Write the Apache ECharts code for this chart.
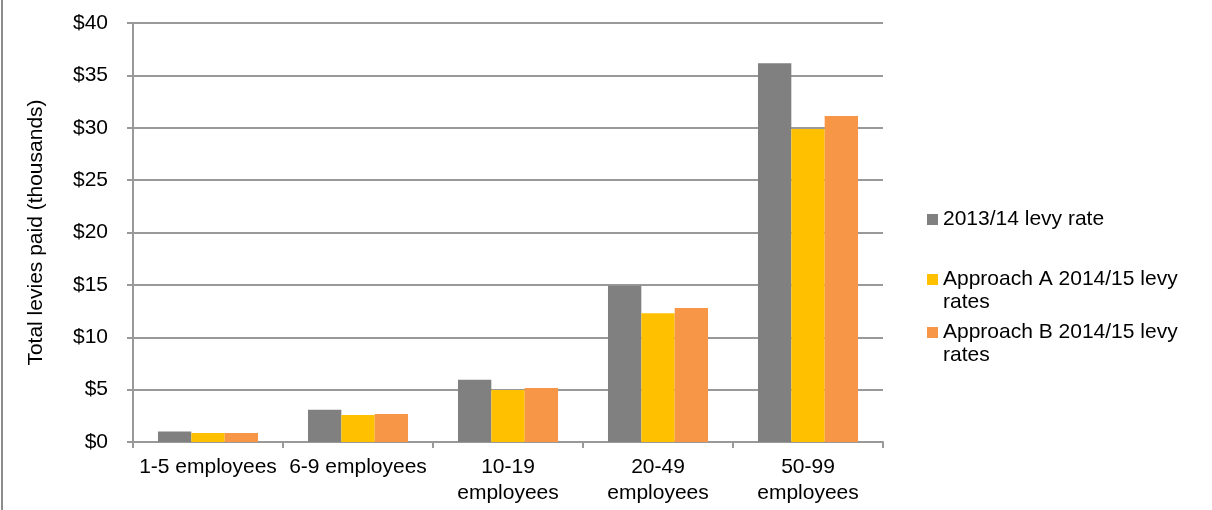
<!DOCTYPE html>
<html>
<head>
<meta charset="utf-8">
<script src="https://cdn.jsdelivr.net/npm/echarts@6/dist/echarts.min.js"></script>
<style>
html,body{margin:0;padding:0;background:#fff;}
#c{width:1212px;height:510px;}
</style>
</head>
<body>
<div id="c"></div>
<script>
const categories = ["1-5 employees", "6-9 employees", "10-19 employees", "20-49 employees", "50-99 employees"];
const tickLabels = ["1-5 employees", "6-9 employees", "10-19\nemployees", "20-49\nemployees", "50-99\nemployees"];
const seriesNames = ["2013/14 levy rate", "Approach A 2014/15 levy rates", "Approach B 2014/15 levy rates"];
const levy1314 = [1.0, 3.08, 5.95, 14.92, 36.15];
const approachA = [0.85, 2.58, 4.96, 12.28, 29.88];
const approachB = [0.87, 2.67, 5.15, 12.79, 31.12];
const yTicks = [0, 5, 10, 15, 20, 25, 30, 35, 40];

const colors = ["#808080", "#FFC000", "#F79646"];
const FONT = '"Liberation Sans", Arial, sans-serif';
const FS = 21;
const gridColor = "#999999";

const chart = echarts.init(document.getElementById('c'));
const twoLineIcon = 'path://M0,0M0,6h11v11h-11zM0,46';
function mkLegend(idx, top, twoLine) {
  return {
    show: true,
    orient: 'vertical',
    left: 927,
    top: top,
    padding: 0,
    itemWidth: 11,
    itemHeight: twoLine ? 46 : 11,
    itemGap: 0,
    data: [{ name: seriesNames[idx], icon: twoLine ? twoLineIcon : 'rect' }],
    formatter: function (n) { return n.replace(' rates', '\nrates'); },
    textStyle: { fontFamily: FONT, fontSize: FS, color: '#000', lineHeight: 23 },
    selectedMode: false
  };
}

chart.setOption({
  animation: false,
  backgroundColor: '#fff',
  color: colors,
  grid: { left: 133, right: 329, top: 23, bottom: 68, containLabel: false },
  legend: [mkLegend(0, 208, false), mkLegend(1, 268, true), mkLegend(2, 321, true)],
  xAxis: {
    type: 'category',
    data: categories,
    axisLine: { lineStyle: { color: gridColor, width: 2 } },
    axisTick: { show: true, length: 6, lineStyle: { color: gridColor, width: 2 } },
    axisLabel: {
      interval: 0,
      margin: 12,
      fontFamily: FONT, fontSize: FS, color: '#000', lineHeight: 26,
      formatter: function (v, i) { return tickLabels[i]; }
    }
  },
  yAxis: {
    type: 'value',
    min: yTicks[0],
    max: yTicks[yTicks.length - 1],
    interval: 5,
    name: 'Total levies paid (thousands)',
    nameLocation: 'middle',
    nameGap: 86,
    nameTextStyle: { fontFamily: FONT, fontSize: FS, color: '#000' },
    axisLine: { show: true, lineStyle: { color: gridColor, width: 2 } },
    axisTick: { show: true, length: 6, lineStyle: { color: gridColor, width: 2 } },
    splitLine: { show: true, lineStyle: { color: gridColor, width: 2 } },
    axisLabel: {
      margin: 25,
      fontFamily: FONT, fontSize: FS, color: '#000',
      formatter: function (v) { return '$' + v; }
    }
  },
  graphic: [{
    type: 'line',
    shape: { x1: 2, y1: 0, x2: 2, y2: 510 },
    style: { stroke: '#8c8c8c', lineWidth: 2 }
  }],
  series: [
    { name: seriesNames[0], type: 'bar', data: levy1314, barGap: '0%', barCategoryGap: '33.3%', itemStyle: { color: colors[0] } },
    { name: seriesNames[1], type: 'bar', data: approachA, barGap: '0%', barCategoryGap: '33.3%', itemStyle: { color: colors[1] } },
    { name: seriesNames[2], type: 'bar', data: approachB, barGap: '0%', barCategoryGap: '33.3%', itemStyle: { color: colors[2] } }
  ]
});
</script>
</body>
</html>
